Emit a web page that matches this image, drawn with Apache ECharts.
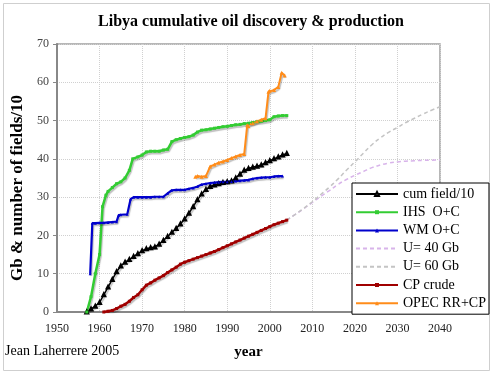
<!DOCTYPE html>
<html><head><meta charset="utf-8">
<script src="https://cdn.jsdelivr.net/npm/echarts@6/dist/echarts.min.js"></script>
<style>html,body{margin:0;padding:0;background:#fff}#c{width:495px;height:376px}</style>
</head><body><div id="c"></div>
<script>
// ---- data ----
var cumYears = [1957,1958,1959,1960,1961,1962,1963,1964,1965,1966,1967,1968,1969,1970,1971,1972,1973,1974,1975,1976,1977,1978,1979,1980,1981,1982,1983,1984,1985,1986,1987,1988,1989,1990,1991,1992,1993,1994,1995,1996,1997,1998,1999,2000,2001,2002,2003,2004];
var cumField10 = [0,0.8,1.5,2.5,4.5,6.5,8.5,10.5,12,13,13.7,14.5,15.2,16,16.5,16.8,17,17.7,18.7,19.7,20.8,21.8,23,24.3,25.8,27.5,29.3,30.8,32,32.8,33.2,33.5,33.8,34,34.2,35,36,37,37.5,37.8,38.1,38.4,39,39.5,40,40.5,41,41.4];

var ihsYears = [1957,1958,1959,1960,1960.7,1961.5,1962,1963,1964,1965,1966,1967,1967.8,1969,1970,1971,1972,1973,1974,1975,1976,1977,1978,1979,1980,1981,1982,1983,1984,1985,1986,1987,1988,1989,1990,1991,1992,1993,1994,1995,1996,1997,1998,1999,2000,2001,2002,2003,2004];
var ihsOC = [0,4,10,15,27.5,30.5,31.5,32.5,33.5,34,35,37,40,40.5,41,41.8,42,42,42,42.3,42.5,44.5,45,45.3,45.6,45.8,46.2,47,47.5,47.6,47.8,48,48.2,48.4,48.5,48.7,48.9,49,49.2,49.3,49.5,49.7,49.8,50,50.2,51,51.2,51.3,51.3];

var wmYears = [1957.8,1958.3,1959,1960,1961,1962,1963,1964,1964.5,1965,1966.5,1967.3,1968,1969,1970,1971,1972,1973,1974,1975,1976,1977,1978,1979,1980,1981,1982,1983,1984,1985,1986,1987,1988,1989,1990,1991,1992,1993,1994,1995,1996,1997,1998,1999,2000,2001,2002,2003];
var wmOC = [10,23.2,23.2,23.3,23.3,23.4,23.5,23.6,25.3,25.4,25.5,29.5,30,30,30,30,30,30.1,30.1,30.1,31,31.8,31.9,31.9,31.9,32.2,32.4,32.8,33.3,33.5,33.7,33.8,33.9,34,34,34.1,34.2,34.3,34.4,34.5,34.8,35,35.1,35.2,35.2,35.4,35.5,35.5];

var uYears = [2004,2006,2008,2010,2012,2014,2016,2018,2020,2022,2024,2026,2028,2030,2032,2034,2036,2038,2040];
var u40 = [24,25.5,27,28.6,30.2,31.7,33.3,34.6,35.7,36.7,37.7,38.4,38.9,39.2,39.4,39.5,39.6,39.65,39.7];
var u60 = [24,25.5,27.1,28.8,30.7,32.6,34.7,37,39.2,41.5,43.7,45.5,47,48.2,49.5,50.6,51.7,52.7,53.6];

var cpYears = [1961,1962,1963,1964,1965,1966,1967,1968,1969,1970,1971,1972,1973,1974,1975,1976,1977,1978,1979,1980,1981,1982,1983,1984,1985,1986,1987,1988,1989,1990,1991,1992,1993,1994,1995,1996,1997,1998,1999,2000,2001,2002,2003,2004];
var cpCrude = [0,0.2,0.4,0.9,1.5,2,2.8,3.8,4.5,5.8,7,7.6,8.3,8.9,9.5,10.3,11,11.7,12.5,13,13.4,13.8,14.2,14.6,15,15.4,15.8,16.3,16.8,17.3,17.8,18.3,18.8,19.3,19.8,20.3,20.8,21.3,21.8,22.3,22.8,23.2,23.6,24];

var opecYears = [1982.5,1983,1984,1985,1986,1987,1988,1989,1990,1991,1992,1993,1994,1994.7,1995,1996,1997,1998,1999,1999.7,2000,2001,2002,2002.8,2003.5];
var opecRRCP = [35.3,35.5,35.3,35.5,38,38.5,39,39.3,39.7,40.2,40.6,41,41.3,48.8,48.5,49.3,49.8,50.2,50.6,57.5,57.8,58,58.8,62.5,61.8];

var xTicks = [1950,1960,1970,1980,1990,2000,2010,2020,2030,2040];
var yTicks = [0,10,20,30,40,50,60,70];

function zip(xs, ys){ return xs.map(function(x,i){ return [x, ys[i]]; }); }

var SERIF = '"Liberation Serif","Times New Roman",serif';
var shadow = {shadowColor:'rgba(0,0,0,0.25)', shadowOffsetX:1, shadowOffsetY:2, shadowBlur:1};

function lineSeries(name, data, color, symbol, size, width, extra){
  var s = {
    name: name, type: 'line', data: data, symbol: symbol, symbolSize: size,
    showSymbol: symbol !== 'none',
    lineStyle: Object.assign({color: color, width: width}, shadow),
    itemStyle: {color: color},
    animation: false, z: 3
  };
  return Object.assign(s, extra || {});
}

var chart = echarts.init(document.getElementById('c'), null, {renderer:'canvas'});
chart.setOption({
  backgroundColor: '#fff',
  animation: false,
  title: {
    text: 'Libya cumulative oil discovery & production',
    left: 246, top: 9, textAlign: 'center',
    textStyle: {fontFamily: SERIF, fontSize: 16, fontWeight: 'bold', color: '#000'}
  },
  graphic: [
    {type:'rect', shape:{x:3.5, y:3.5, width:486, height:367}, style:{fill:'none', stroke:'#cfcfcf', lineWidth:1}, z:-10},
    {type:'text', left: 5, top: 344, style:{text:'Jean Laherrere 2005', font: '14px ' + SERIF, fill:'#000'}}
  ],
  grid: {left: 57, top: 44, width: 383, height: 268, show: true, borderColor: '#a0a0a0', borderWidth: 1.5},
  legend: {
    orient: 'vertical', left: 352, top: 183,
    backgroundColor: '#fff', borderColor: '#000', borderWidth: 1,
    padding: [4, 3, 4, 3], itemWidth: 42, itemHeight: 5, itemGap: 4.2,
    textStyle: {fontFamily: SERIF, fontSize: 14, color: '#000'},
    data: [
      'cum field/10','IHS  O+C','WM O+C',
      {name:'U= 40 Gb', itemStyle:{opacity:0}},
      {name:'U= 60 Gb', itemStyle:{opacity:0}},
      'CP crude','OPEC RR+CP'
    ]
  },
  xAxis: {
    type: 'value', min: 1950, max: 2040, interval: 10,
    name: 'year', nameLocation: 'middle', nameGap: 33,
    nameTextStyle: {fontFamily: SERIF, fontSize: 15, fontWeight: 'bold', color: '#000'},
    axisLine: {show: true, onZero: false, lineStyle: {color: '#888', width: 2}},
    axisTick: {show: false},
    axisLabel: {fontFamily: SERIF, fontSize: 12, color: '#222', margin: 11,
      formatter: function(v){ return xTicks.indexOf(v) >= 0 ? String(v) : ''; }},
    splitLine: {show: true, lineStyle: {color: '#d0d0d0', type: 'dotted', width: 1}}
  },
  yAxis: {
    type: 'value', min: 0, max: 70, interval: 10,
    name: 'Gb & number of fields/10', nameLocation: 'middle', nameGap: 25, nameRotate: 90,
    nameTextStyle: {fontFamily: SERIF, fontSize: 17, fontWeight: 'bold', color: '#000', padding: [0, 20, 0, 0]},
    axisLine: {show: true, lineStyle: {color: '#888', width: 2}},
    axisTick: {show: true, length: 4, inside: false, lineStyle: {color: '#888'}},
    axisLabel: {fontFamily: SERIF, fontSize: 12, color: '#444', margin: 8,
      formatter: function(v){ return yTicks.indexOf(v) >= 0 ? String(v) : ''; }},
    splitLine: {show: true, lineStyle: {color: '#d0d0d0', type: 'dotted', width: 1}}
  },
  series: [
    lineSeries('cum field/10', zip(cumYears, cumField10), '#000000', 'emptyTriangle', 3, 1.5),
    lineSeries('IHS  O+C', zip(ihsYears, ihsOC), '#33cc33', 'rect', 3, 2.5),
    lineSeries('WM O+C', zip(wmYears, wmOC), '#0000cc', 'triangle', 3, 2.2),
    lineSeries('U= 40 Gb', zip(uYears, u40), '#d8b4ea', 'none', 0, 1.5, {smooth: true, lineStyle: {color:'#d8b4ea', width: 1.5, type: [4,3]}}),
    lineSeries('U= 60 Gb', zip(uYears, u60), '#c4c4c4', 'none', 0, 1.5, {smooth: true, lineStyle: {color:'#c4c4c4', width: 1.5, type: [4,3]}}),
    lineSeries('CP crude', zip(cpYears, cpCrude), '#a00000', 'rect', 3, 2.5),
    lineSeries('OPEC RR+CP', zip(opecYears, opecRRCP), '#ff8c1a', 'triangle', 4, 2)
  ]
});
</script></body></html>
